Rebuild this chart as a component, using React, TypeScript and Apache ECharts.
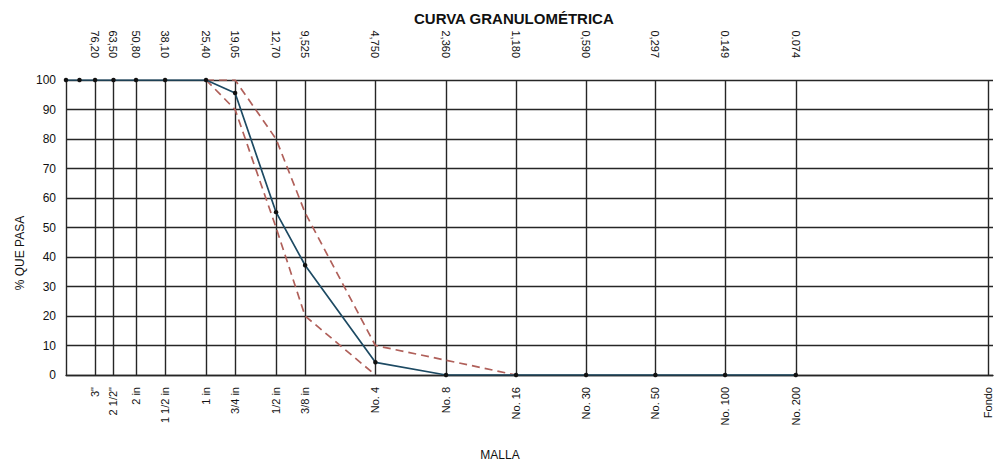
import React, { useEffect, useRef } from "react";
import * as echarts from "echarts";

// Sieve sizes (mm), bottom-axis names and top-axis mm labels
const SIEVE_SIZES = [76.2, 63.5, 50.8, 38.1, 25.4, 19.05, 12.7, 9.525, 4.75, 2.36, 1.18, 0.59, 0.297, 0.149, 0.074];
const SIEVE_NAMES = ['3"', '2 1/2"', "2 in", "1 1/2 in", "1 in", "3/4 in", "1/2 in", "3/8 in", "No. 4", "No. 8", "No. 16", "No. 30", "No. 50", "No. 100", "No. 200"];
const MM_LABELS = ["76,20", "63,50", "50,80", "38,10", "25,40", "19,05", "12,70", "9,525", "4,750", "2,360", "1,180", "0,590", "0,297", "0.149", "0.074"];
const FONDO_SIZE = 0.011;
const FONDO_NAME = "Fondo";

// Measured curve (% passing)
const CURVE_SIZES = [101.6, 88.9, 76.2, 63.5, 50.8, 38.1, 25.4, 19.05, 12.7, 9.525, 4.75, 2.36, 1.18, 0.59, 0.297, 0.149, 0.074];
const CURVE_PASS = [100, 100, 100, 100, 100, 100, 100, 95.6, 55.2, 37.2, 4.3, 0, 0, 0, 0, 0, 0];

// Specification limits
const UPPER_SIZES = [25.4, 19.05, 12.7, 9.525, 4.75, 2.36, 1.18];
const UPPER_PASS = [100, 100, 80, 55, 10, 5, 0];
const LOWER_SIZES = [25.4, 19.05, 12.7, 9.525, 4.75];
const LOWER_PASS = [100, 90, 50, 20, 0];

const Y_TICKS = [0, 10, 20, 30, 40, 50, 60, 70, 80, 90, 100];

const FONT = "'Liberation Sans', Arial, sans-serif";

function pair(xs: number[], ys: number[]) {
  return xs.map((x, i) => [x, ys[i]]);
}

function findIdx(arr: number[], v: number) {
  for (let i = 0; i < arr.length; i++) {
    if (Math.abs(arr[i] - v) / arr[i] < 1e-4) return i;
  }
  return -1;
}

export default function App() {
  const ref = useRef<HTMLDivElement>(null);
  useEffect(() => {
    if (!ref.current) return;
    const chart = echarts.init(ref.current, null, { renderer: "svg" });
    const bottomValues = [...SIEVE_SIZES, FONDO_SIZE];
    const gridColor = "#262626";
    chart.setOption({
      animation: false,
      backgroundColor: "#ffffff",
      textStyle: { fontFamily: FONT },
      grid: { left: 66, right: 2, top: 80, bottom: 88, containLabel: false, outerBoundsMode: "none" },
      graphic: [
        {
          type: "text",
          left: 414,
          top: 11,
          style: { text: "CURVA GRANULOMÉTRICA", font: `bold 15px ${FONT}`, fill: "#111" },
        },
        {
          type: "text",
          x: 20,
          y: 253,
          rotation: Math.PI / 2,
          style: { text: "% QUE PASA", font: `12px ${FONT}`, fill: "#111", align: "center", verticalAlign: "middle" },
        },
        {
          type: "text",
          x: 500,
          y: 455,
          style: { text: "MALLA", font: `12px ${FONT}`, fill: "#111", align: "center", verticalAlign: "middle" },
        },
      ],
      xAxis: [
        {
          type: "log",
          logBase: 10,
          position: "bottom",
          inverse: true,
          min: 0.0105,
          max: 101.6,
          axisLine: { show: true, lineStyle: { color: gridColor, width: 1.4 } },
          axisTick: { show: false, customValues: bottomValues },
          splitLine: { show: true, lineStyle: { color: gridColor, width: 1.4 } },
          axisLabel: {
            customValues: bottomValues,
            rotate: 90,
            margin: 12,
            fontSize: 11,
            color: "#111",
            fontFamily: FONT,
            hideOverlap: false,
            formatter: (v: number) => {
              const i = findIdx(SIEVE_SIZES, v);
              if (i >= 0) return SIEVE_NAMES[i];
              if (Math.abs(v - FONDO_SIZE) / FONDO_SIZE < 1e-4) return FONDO_NAME;
              return "";
            },
          },
        },
        {
          type: "log",
          logBase: 10,
          position: "top",
          inverse: true,
          min: 0.0105,
          max: 101.6,
          axisLine: { show: false },
          axisTick: { show: false, customValues: SIEVE_SIZES },
          splitLine: { show: false },
          axisLabel: {
            customValues: SIEVE_SIZES,
            rotate: 90,
            margin: 22,
            fontSize: 11,
            color: "#111",
            fontFamily: FONT,
            hideOverlap: false,
            formatter: (v: number) => {
              const i = findIdx(SIEVE_SIZES, v);
              return i >= 0 ? MM_LABELS[i] : "";
            },
          },
        },
      ],
      yAxis: {
        type: "value",
        min: 0,
        max: 100,
        interval: 10,
        axisLine: { show: true, lineStyle: { color: gridColor, width: 1.4 } },
        axisTick: { show: false },
        splitLine: { show: true, lineStyle: { color: gridColor, width: 1.4 } },
        axisLabel: {
          margin: 10,
          fontSize: 12,
          color: "#111",
          fontFamily: FONT,
          formatter: (v: number) => (Y_TICKS.indexOf(v) >= 0 ? String(v) : ""),
        },
      },
      series: [
        {
          name: "Límite superior",
          type: "line",
          xAxisIndex: 0,
          data: pair(UPPER_SIZES, UPPER_PASS),
          symbol: "none",
          lineStyle: { color: "#b0605a", width: 1.7, type: [8, 5] },
          z: 3,
        },
        {
          name: "Límite inferior",
          type: "line",
          xAxisIndex: 0,
          data: pair(LOWER_SIZES, LOWER_PASS),
          symbol: "none",
          lineStyle: { color: "#b0605a", width: 1.7, type: [8, 5] },
          z: 3,
        },
        {
          name: "Curva",
          type: "line",
          xAxisIndex: 0,
          data: pair(CURVE_SIZES, CURVE_PASS),
          symbol: "circle",
          symbolSize: 4.5,
          itemStyle: { color: "#111111" },
          lineStyle: { color: "#1d4a63", width: 1.7 },
          z: 4,
        },
      ],
    });
    return () => chart.dispose();
  }, []);
  return (
    <div
      ref={ref}
      style={{ position: "fixed", left: 0, top: 0, width: 995, height: 463, background: "#fff" }}
    />
  );
}
